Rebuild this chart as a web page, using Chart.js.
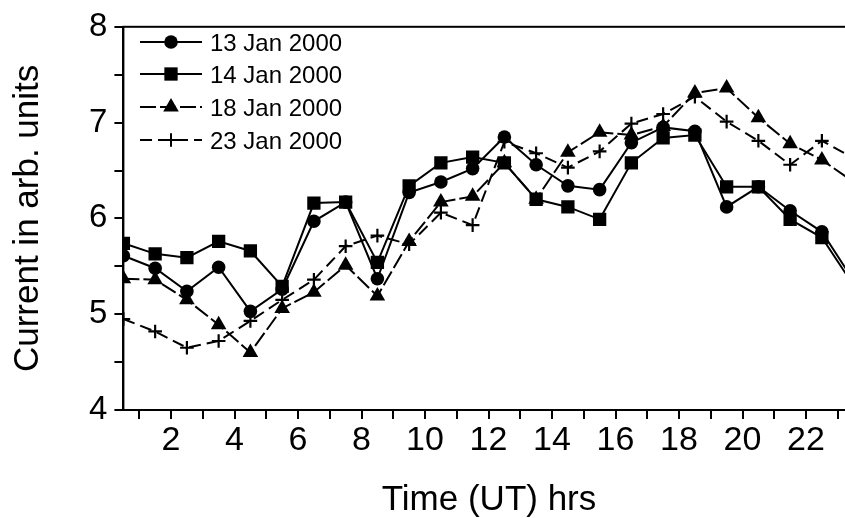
<!DOCTYPE html>
<html>
<head>
<meta charset="utf-8">
<script src="https://cdn.jsdelivr.net/npm/chart.js@4/dist/chart.umd.min.js"></script>
<style>
  html, body { margin: 0; padding: 0; background: #fff; overflow: hidden; }
  canvas { display: block; }
</style>
</head>
<body>
<canvas id="chart" width="880" height="518"></canvas>
<script>
'use strict'

// hourly means, plotted at the middle of each UT hour
const hours = [0.5, 1.5, 2.5, 3.5, 4.5, 5.5, 6.5, 7.5, 8.5, 9.5, 10.5, 11.5,
  12.5, 13.5, 14.5, 15.5, 16.5, 17.5, 18.5, 19.5, 20.5, 21.5, 22.5, 23.5]

const jan13 = [5.61, 5.48, 5.24, 5.49, 5.03, 5.26, 5.97, 6.17, 5.37, 6.27, 6.38, 6.52,
  6.85, 6.56, 6.34, 6.30, 6.79, 6.95, 6.91, 6.12, 6.33, 6.08, 5.86, 5.35]
const jan14 = [5.74, 5.63, 5.59, 5.76, 5.66, 5.29, 6.16, 6.17, 5.54, 6.34, 6.58, 6.64,
  6.58, 6.20, 6.12, 5.99, 6.58, 6.84, 6.87, 6.33, 6.33, 5.99, 5.80, 5.30]
const jan18 = [5.37, 5.36, 5.15, 4.89, 4.60, 5.06, 5.23, 5.51, 5.19, 5.76, 6.17, 6.23,
  6.58, 6.20, 6.69, 6.90, 6.87, 6.96, 7.31, 7.36, 7.05, 6.78, 6.61, 6.38]
const jan23 = [4.95, 4.82, 4.65, 4.72, 4.93, 5.15, 5.36, 5.71, 5.82, 5.73, 6.06, 5.93,
  6.80, 6.68, 6.53, 6.70, 6.99, 7.09, 7.27, 7.01, 6.81, 6.56, 6.81, 6.63]

const seriesLabels = ['13 Jan 2000', '14 Jan 2000', '18 Jan 2000', '23 Jan 2000']
const xTickLabels = ['2', '4', '6', '8', '10', '12', '14', '16', '18', '20', '22']
const yTickLabels = ['4', '5', '6', '7', '8']

const FONT = 'Liberation Sans'

const toPoints = (values) => values.map((y, i) => ({ x: hours[i], y }))

function drawMarker (ctx, style, r, x, y) {
  ctx.save()
  ctx.fillStyle = '#000'
  ctx.strokeStyle = '#000'
  ctx.lineWidth = 2
  ctx.setLineDash([])
  ctx.beginPath()
  if (style === 'circle') {
    ctx.arc(x, y, r, 0, Math.PI * 2)
    ctx.fill()
  } else if (style === 'rect') {
    const s = r * Math.SQRT2 / 2
    ctx.fillRect(x - s, y - s, s * 2, s * 2)
  } else if (style === 'triangle') {
    ctx.moveTo(x, y - r)
    ctx.lineTo(x + r * 0.866, y + r * 0.5)
    ctx.lineTo(x - r * 0.866, y + r * 0.5)
    ctx.closePath()
    ctx.fill()
  } else if (style === 'cross') {
    ctx.moveTo(x - r, y)
    ctx.lineTo(x + r, y)
    ctx.moveTo(x, y - r)
    ctx.lineTo(x, y + r)
    ctx.stroke()
  }
  ctx.restore()
}

// legend drawn inside the plot, line - marker - line like the original
const insideLegend = {
  id: 'insideLegend',
  afterDatasetsDraw (chart) {
    const { ctx } = chart
    const rows = [42, 74, 107, 140]
    chart.data.datasets.forEach((ds, i) => {
      const y = rows[i]
      ctx.save()
      ctx.strokeStyle = '#000'
      ctx.lineWidth = 2
      ctx.setLineDash(ds.borderDash || [])
      ctx.beginPath()
      ctx.moveTo(140, y)
      ctx.lineTo(202, y)
      ctx.stroke()
      ctx.restore()
      drawMarker(ctx, ds.pointStyle, ds.pointRadius, 171, y)
      ctx.save()
      ctx.fillStyle = '#000'
      ctx.font = `24px "${FONT}"`
      ctx.textBaseline = 'alphabetic'
      ctx.fillText(ds.label, 210, y + 8.5)
      ctx.restore()
    })
  }
}

// frame round the plot and the x axis title
const frameAndTitle = {
  id: 'frameAndTitle',
  afterDraw (chart) {
    const { ctx, chartArea: { left, top, right, bottom } } = chart
    ctx.save()
    ctx.strokeStyle = '#000'
    ctx.lineWidth = 2
    ctx.strokeRect(left, top, right - left, bottom - top)
    ctx.fillStyle = '#000'
    ctx.font = `35px "${FONT}"`
    ctx.textAlign = 'center'
    ctx.textBaseline = 'alphabetic'
    ctx.fillText('Time (UT) hrs', 489, 510)
    ctx.restore()
  }
}

const common = {
  fill: false,
  borderColor: '#000',
  backgroundColor: '#000',
  pointBackgroundColor: '#000',
  pointBorderColor: '#000',
  borderWidth: 2,
  tension: 0
}

new Chart(document.getElementById('chart'), {
  type: 'line',
  data: {
    datasets: [
      { ...common, label: seriesLabels[0], data: toPoints(jan13), pointStyle: 'circle', pointRadius: 6.8, pointBorderWidth: 0 },
      { ...common, label: seriesLabels[1], data: toPoints(jan14), pointStyle: 'rect', pointRadius: 9.4, pointBorderWidth: 0 },
      { ...common, label: seriesLabels[2], data: toPoints(jan18), pointStyle: 'triangle', pointRadius: 9, pointBorderWidth: 0, borderDash: [16, 4] },
      { ...common, label: seriesLabels[3], data: toPoints(jan23), pointStyle: 'cross', pointRadius: 6.8, pointBorderWidth: 2.2, borderDash: [12, 6] }
    ]
  },
  options: {
    responsive: false,
    animation: false,
    layout: { padding: { top: 22, right: 10.5, bottom: 0, left: 0 } },
    plugins: {
      legend: { display: false },
      tooltip: { enabled: false }
    },
    scales: {
      x: {
        type: 'linear',
        min: 0.5,
        max: 24,
        afterFit: (scale) => { scale.height = 108 },
        afterBuildTicks: (scale) => {
          const ticks = []
          for (let v = 1; v <= 24; v++) ticks.push({ value: v })
          scale.ticks = ticks
        },
        ticks: {
          autoSkip: false,
          maxRotation: 0,
          padding: 1,
          color: '#000',
          font: { family: FONT, size: 34 },
          callback: (v) => xTickLabels.includes(String(v)) ? String(v) : ''
        },
        grid: { drawOnChartArea: false, drawTicks: true, tickLength: 9, color: '#000', lineWidth: 2 },
        border: { display: true, color: '#000', width: 2 }
      },
      y: {
        type: 'linear',
        min: 4,
        max: 8,
        afterFit: (scale) => { scale.width = 123.4 },
        ticks: {
          stepSize: 0.5,
          padding: 7,
          color: '#000',
          font: { family: FONT, size: 33 },
          callback: (v) => yTickLabels.includes(String(v)) ? String(v) : ''
        },
        title: {
          display: true,
          text: 'Current in arb. units',
          color: '#000',
          font: { family: FONT, size: 35 },
          padding: { top: 7.5, bottom: 0 }
        },
        grid: { drawOnChartArea: false, drawTicks: true, tickLength: 9, color: '#000', lineWidth: 2 },
        border: { display: true, color: '#000', width: 2 }
      }
    }
  },
  plugins: [insideLegend, frameAndTitle]
})
</script>
</body>
</html>
